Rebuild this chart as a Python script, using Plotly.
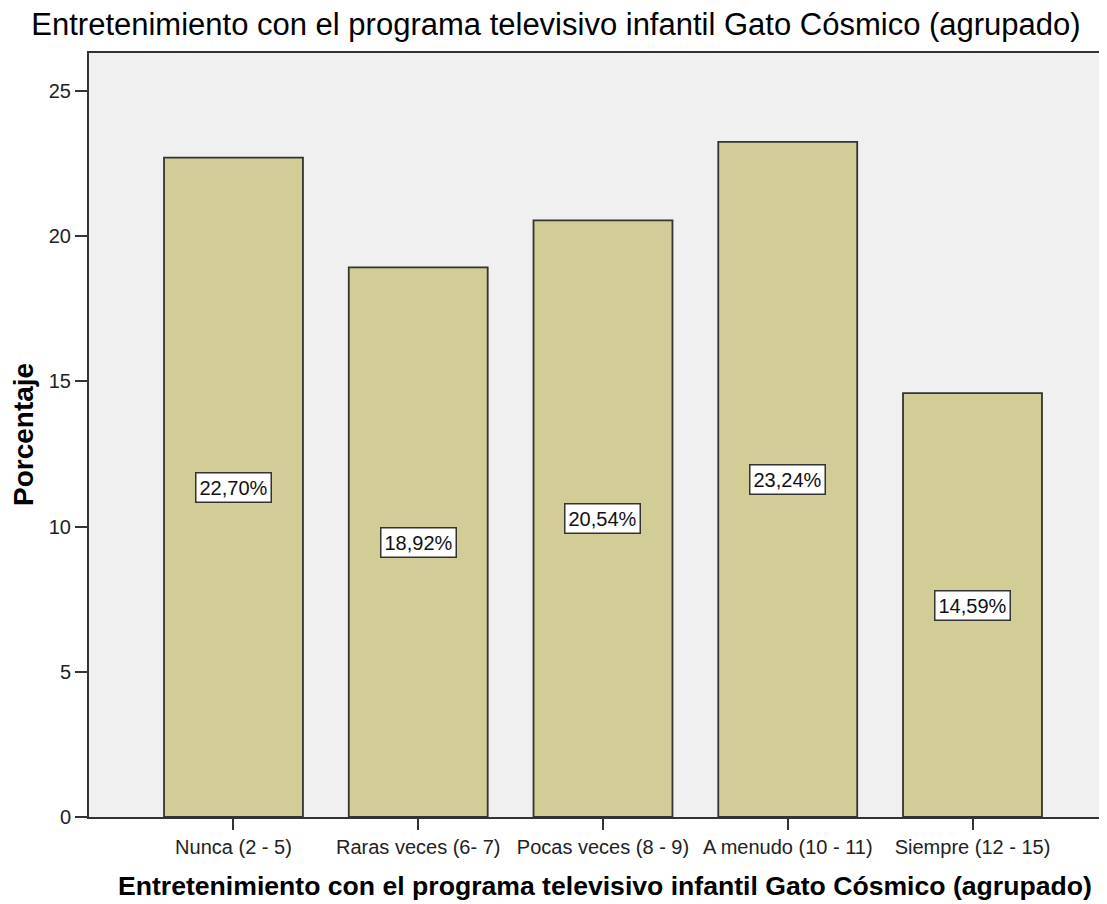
import plotly.graph_objects as go

categorias = ['Nunca (2 - 5)', 'Raras veces (6- 7)', 'Pocas veces (8 - 9)',
              'A menudo (10 - 11)', 'Siempre (12 - 15)']
porcentajes = [22.70, 18.92, 20.54, 23.24, 14.59]
etiquetas = ['22,70%', '18,92%', '20,54%', '23,24%', '14,59%']
ticks_y = [0, 5, 10, 15, 20, 25]

titulo = 'Entretenimiento con el programa televisivo infantil Gato Cósmico (agrupado)'
fuente = 'Liberation Sans, Arial, sans-serif'
posiciones = list(range(len(categorias)))

fig = go.Figure()
fig.add_trace(go.Bar(
    x=posiciones,
    y=porcentajes,
    width=0.752,
    marker=dict(color='#d2cd97', line=dict(color='#333333', width=1.8)),
    hoverinfo='skip',
))

# etiquetas en cajas blancas a media altura de cada barra
for xi, val, txt in zip(posiciones, porcentajes, etiquetas):
    fig.add_annotation(
        x=xi, y=val / 2, text=txt, showarrow=False,
        xanchor='center', yanchor='middle',
        font=dict(family=fuente, size=20, color='#111111'),
        bgcolor='white', bordercolor='#333333', borderwidth=1.5, borderpad=3,
    )

# titulos de ejes como anotaciones para fijar su posicion
fig.add_annotation(
    x=0.507, xref='paper', y=-0.09, yref='paper',
    xanchor='center', yanchor='middle',
    text='<b>' + titulo + '</b>', showarrow=False,
    font=dict(family=fuente, size=26.6, color='#000000'),
)
fig.add_annotation(
    x=-0.0648, xref='paper', y=0.5, yref='paper', textangle=-90,
    xanchor='center', yanchor='middle',
    text='<b>Porcentaje</b>', showarrow=False,
    font=dict(family=fuente, size=28, color='#000000'),
)

fig.update_layout(
    width=1107, height=904,
    margin=dict(l=81, r=8, t=45, b=95),
    paper_bgcolor='white',
    plot_bgcolor='#f0f0f0',
    showlegend=False,
    title=dict(text=titulo, x=0.495, xref='container', xanchor='center',
               y=0.982, yref='container', yanchor='middle',
               font=dict(family=fuente, size=31, color='#000000')),
    font=dict(family=fuente, size=20, color='#222222'),
    xaxis=dict(
        tickmode='array', tickvals=posiciones, ticktext=categorias,
        range=[-0.782, 4.728], showgrid=False, zeroline=False,
        showline=True, linecolor='#333333', linewidth=2, mirror=True,
        ticks='outside', ticklen=11, tickwidth=2, tickcolor='#333333',
        tickfont=dict(family=fuente, size=20, color='#222222'),
    ),
    yaxis=dict(
        range=[0, 26.3], tickmode='array', tickvals=ticks_y,
        showgrid=False, zeroline=False,
        showline=True, linecolor='#333333', linewidth=2,
        ticks='outside', ticklen=12, tickwidth=2, tickcolor='#333333',
        tickfont=dict(family=fuente, size=20, color='#222222'),
    ),
)

fig.write_html("out.html")
